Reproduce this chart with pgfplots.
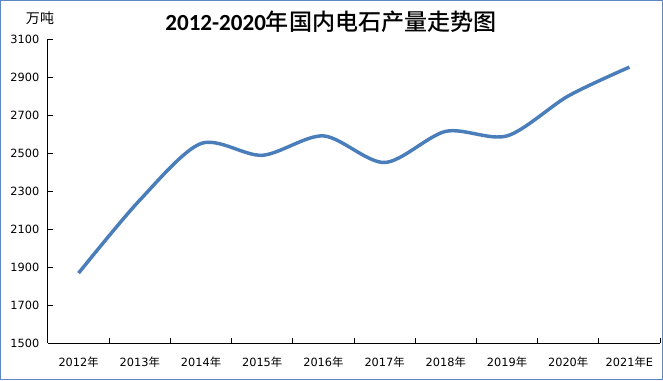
\documentclass[border=0pt]{standalone}
\usepackage{pgfplots}
\pgfplotsset{compat=1.18}
\usepackage{fontspec}
\setmainfont{DejaVu Sans}
\newfontfamily\cjk{Noto Sans CJK SC}
\newfontfamily\cjkm{Noto Sans CJK SC Medium}
\newfontfamily\carlito{Carlito}
\definecolor{lineblue}{RGB}{74,126,187}
\definecolor{frameblue}{RGB}{95,135,195}
\begin{document}
\begin{tikzpicture}[x=0.75pt,y=0.75pt]
\draw[frameblue,line width=0.9pt] (0.6,0.6) rectangle (662.4,379.4);
\node[font=\fontsize{17.3}{19}\selectfont] at (331,358) {{\bfseries\carlito 2012-2020}{\cjkm 年国内电石产量走势图}};
\node[font=\cjk\fontsize{10.5}{12}\selectfont] at (40,362) {万吨};
\begin{axis}[
  at={(36pt,27.75pt)}, anchor=south west,
  width=459pt, height=228pt, scale only axis,
  xmin=0, xmax=10, ymin=1500, ymax=3100,
  ytick={1500,1700,...,3100},
  xtick={0.5,1.5,2.5,3.5,4.5,5.5,6.5,7.5,8.5,9.5},
  xticklabels={2012{\cjk 年},2013{\cjk 年},2014{\cjk 年},2015{\cjk 年},2016{\cjk 年},2017{\cjk 年},2018{\cjk 年},2019{\cjk 年},2020{\cjk 年},2021{\cjk 年}E},
  minor xtick={1,2,...,10},
  major x tick style={draw=none},
  tick style={black, line width=0.6pt},
  minor tick length=4pt, major tick length=4pt,
  axis x line*=bottom, axis y line*=left,
  axis line style={-, black, line width=0.75pt},
  /pgf/number format/assume math mode=true,
  /pgf/number format/set thousands separator={},
  ticklabel style={font=\fontsize{8.5}{10}\selectfont},
  xticklabel style={yshift=-7pt},
  yticklabel style={xshift=-3pt},
  clip=false,
]
\addplot[lineblue, line width=2.6pt, smooth, tension=0.5] coordinates {
(0.5,1868) (1.5,2252) (2.5,2550) (3.5,2488) (4.5,2590) (5.5,2450) (6.5,2614) (7.5,2590) (8.5,2800) (9.5,2952)
};
\end{axis}
\end{tikzpicture}
\end{document}
